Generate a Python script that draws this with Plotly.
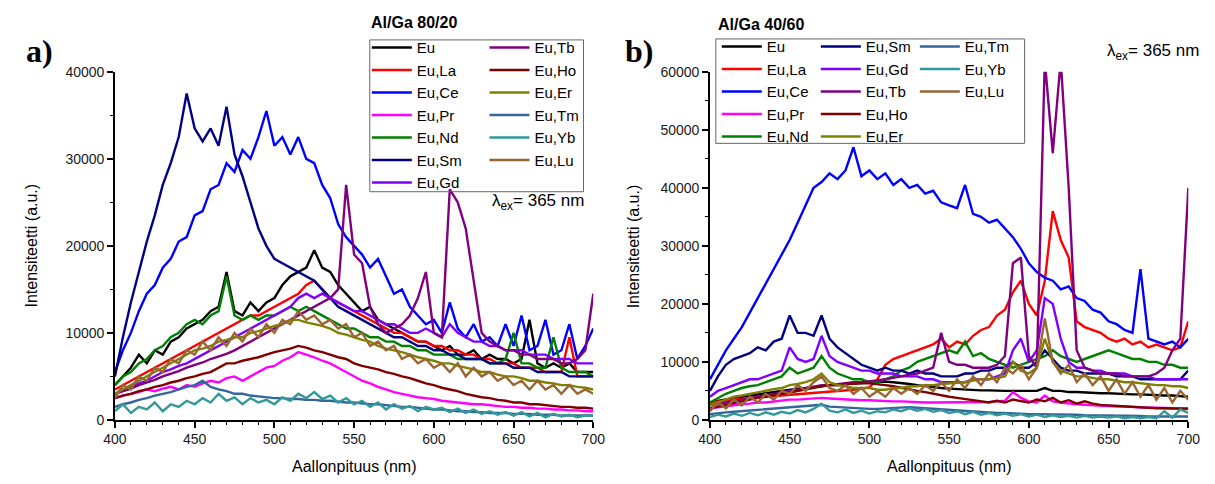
import plotly.graph_objects as go

# wavelength grid (nm)
WL = list(range(400, 701, 5))

# ---------------- panel a) Al/Ga 80/20 ----------------
a_Eu = [4000, 5000, 6000, 7500, 6500, 8000, 7500, 9000, 9500, 10500,
        11000, 11500, 12500, 13000, 17000, 12500, 12000, 13500, 12500, 13500,
        14000, 15500, 16500, 17000, 17500, 19500, 17500, 17000, 15500, 14500,
        13500, 12500, 13000, 11500, 11000, 10500, 10000, 9500, 9000, 9000,
        8500, 8000, 8500, 7500, 7500, 8000, 7000, 7500, 7000, 7000,
        6500, 7000, 11500, 6500, 6000, 6500, 6000, 6500, 5500, 5500, 5500]
a_La = [3500, 4000, 4500, 5000, 5500, 6000, 6500, 7000, 7500, 8000,
        8500, 9000, 9500, 10000, 10500, 11000, 11500, 12000, 12000, 12500,
        13000, 13500, 14000, 14500, 15500, 16000, 15000, 14000, 13500, 13000,
        12500, 12000, 11500, 11000, 10500, 10000, 10000, 9500, 9000, 9000,
        8500, 8500, 8000, 8000, 7500, 7500, 7000, 7000, 6500, 6500,
        6500, 6000, 6000, 6000, 5500, 5500, 5500, 9500, 5000, 5000, 5000]
a_Ce = [5500, 8000, 10000, 12500, 14500, 15500, 17500, 18500, 20500, 21000,
        23500, 24000, 26500, 27000, 29500, 28500, 31000, 30000, 32500, 35500,
        31500, 32500, 30500, 32500, 30000, 29500, 27000, 25500, 22500, 21000,
        20000, 19000, 17500, 18500, 16500, 14500, 15000, 13000, 12000, 11000,
        11500, 10000, 13500, 10500, 9500, 11000, 9000, 9500, 8500, 11000,
        8500, 12000, 8000, 8500, 11500, 7500, 8000, 11000, 7000, 8500, 10500]
a_Pr = [2500, 2800, 3000, 3200, 3500, 3300, 3600, 3800, 3500, 4000,
        3800, 4200, 4500, 4300, 4800, 5000, 4500, 5000, 5500, 6000,
        6200, 6800, 7200, 7800, 7500, 7200, 6800, 6500, 6000, 5500,
        5000, 4500, 4200, 3800, 3500, 3200, 3000, 2800, 2600, 2500,
        2400, 2200, 2100, 2000, 1900, 1800, 1800, 1700, 1600, 1500,
        1500, 1400, 1400, 1300, 1300, 1200, 1200, 1100, 1100, 1000, 1000]
a_Nd = [4000, 5000, 5500, 6500, 7000, 8000, 8500, 9500, 10000, 11000,
        11500, 11000, 12000, 12500, 16500, 12000, 11500, 12000, 11500, 12000,
        12000, 12500, 13000, 12500, 13000, 12500, 12000, 11500, 11000, 10500,
        10500, 10000, 9500, 9500, 9000, 9000, 8500, 8500, 8000, 8000,
        7500, 7500, 7500, 7000, 7000, 7000, 7000, 6500, 6500, 7000,
        10000, 6500, 6500, 6000, 6000, 9500, 6000, 5500, 5500, 5500, 5000]
a_Sm = [5000, 9500, 13500, 17000, 20500, 23500, 27000, 29500, 32500, 37500,
        33500, 32000, 33500, 31500, 36000, 30500, 28000, 25000, 22000, 20000,
        18500, 18000, 17500, 17000, 16500, 16000, 15000, 14000, 13000, 12500,
        12000, 11500, 11000, 10500, 10000, 9500, 9500, 9000, 8500, 8500,
        8000, 8000, 7500, 7500, 7000, 7000, 7000, 6500, 6500, 6500,
        6000, 6000, 6000, 5500, 5500, 5500, 5500, 5000, 5000, 5000, 5000]
a_Gd = [3000, 3500, 3800, 4200, 4500, 5000, 5500, 5800, 6200, 6500,
        7000, 7500, 8000, 8500, 9000, 9500, 10000, 10500, 11000, 11500,
        12000, 12500, 13000, 14000, 14500, 14000, 14500, 14000, 13500, 13000,
        12500, 12500, 12000, 11500, 11000, 11000, 10500, 10000, 10000, 10500,
        10000, 9500, 11000, 10000, 9500, 9000, 9000, 8500, 8500, 8000,
        8000, 8000, 7500, 7500, 7500, 7000, 7000, 7000, 6500, 6500, 6500]
a_Tb = [3000, 3300, 3600, 4000, 4300, 4600, 5000, 5300, 5600, 6000,
        6300, 6600, 7000, 7300, 7600, 8000, 8500, 9000, 9500, 10000,
        10500, 11000, 11500, 12000, 12500, 13000, 13500, 14000, 15000, 27000,
        19000, 18000, 13000, 11000, 10000, 10500, 11000, 12000, 14000, 17000,
        10000, 9500, 26500, 25000, 22000, 16000, 10000, 9000, 8500, 8000,
        8000, 7500, 7500, 7000, 7000, 7000, 6500, 6500, 7000, 8000, 14500]
a_Ho = [2500, 2800, 3000, 3300, 3500, 3800, 4000, 4300, 4500, 4800,
        5000, 5300, 5500, 6000, 6500, 6500, 6800, 7000, 7200, 7500,
        7800, 8000, 8200, 8500, 8300, 8000, 7800, 7500, 7200, 7000,
        6500, 6200, 6000, 5800, 5500, 5300, 5000, 4800, 4500, 4200,
        4000, 3700, 3500, 3300, 3000, 2800, 2600, 2500, 2300, 2200,
        2000, 2000, 1800, 1800, 1700, 1600, 1500, 1500, 1400, 1400, 1300]
a_Er = [3000, 3500, 4000, 4500, 5000, 5500, 6000, 6500, 7000, 7500,
        8000, 8200, 8500, 9000, 9200, 9500, 9500, 10000, 10200, 10500,
        10800, 11000, 11500, 11500, 11200, 11000, 10800, 10500, 10000, 9800,
        9500, 9200, 9000, 8500, 8200, 8000, 7800, 7500, 7200, 7000,
        6800, 6500, 6500, 6200, 6000, 5800, 5500, 5500, 5200, 5000,
        5000, 4800, 4500, 4500, 4300, 4200, 4000, 4000, 3800, 3700, 3500]
a_Tm = [1500, 1800, 2000, 2300, 2500, 2800, 3000, 3200, 3500, 3800,
        4000, 4500, 3800, 3500, 3300, 3000, 3000, 2800, 2700, 2600,
        2500, 2500, 2400, 2400, 2300, 2300, 2200, 2200, 2100, 2000,
        2000, 1900, 1800, 1800, 1700, 1600, 1500, 1500, 1400, 1300,
        1200, 1200, 1100, 1000, 1000, 900, 900, 800, 800, 800,
        700, 700, 700, 600, 600, 600, 500, 500, 500, 500, 500]
a_Yb = [1000, 1800, 800, 1500, 1200, 2000, 1000, 1800, 1500, 2200,
        1800, 2500, 2000, 3000, 2200, 2600, 1800, 2500, 2000, 2300,
        1800, 2600, 2200, 3000, 2500, 3200, 2400, 2800, 2000, 2500,
        1800, 2200, 1500, 2000, 1200, 1800, 1300, 1600, 1000, 1500,
        1200, 1400, 900, 1300, 800, 1200, 700, 1000, 600, 900,
        500, 900, 400, 800, 300, 700, 400, 600, 300, 500, 500]
a_Lu = [2500, 4000, 3500, 5000, 4500, 6000, 5500, 7000, 6500, 8000,
        7500, 9000, 8000, 9500, 8500, 10000, 9000, 10500, 9500, 11000,
        10000, 11500, 11000, 12500, 11500, 12000, 11000, 11500, 10500, 11000,
        9500, 10000, 8500, 9000, 8000, 8500, 7000, 7500, 6500, 7000,
        6000, 6500, 5500, 6500, 5000, 6000, 5000, 5500, 4500, 5000,
        4000, 4500, 3500, 4500, 3500, 4000, 3000, 4000, 3000, 3500, 3000]

# ---------------- panel b) Al/Ga 40/60 ----------------
b_Eu = [3000, 3300, 3500, 3800, 4000, 4200, 4500, 4700, 4800, 5000,
        5200, 5400, 5500, 5600, 5800, 6000, 6000, 6200, 6300, 6300,
        6400, 6500, 6600, 6500, 6400, 6200, 6000, 5800, 5600, 5500,
        5400, 5300, 5200, 5200, 5100, 5100, 5000, 5000, 5000, 5000,
        5000, 5000, 5500, 5000, 5000, 4800, 4800, 4700, 4700, 4600,
        4600, 4500, 4500, 4400, 4400, 4300, 4300, 4200, 4200, 4100, 4000]
b_La = [3000, 3200, 3300, 3500, 3600, 3800, 3900, 4000, 4100, 4200,
        4300, 4400, 4500, 4600, 4700, 4800, 4900, 5000, 5200, 5400,
        5600, 7000, 9500, 10500, 11000, 11500, 12000, 12500, 13000, 14000,
        12500, 13500, 13000, 14500, 15500, 16000, 18000, 19000, 22000, 24000,
        20000, 18000, 24000, 36000, 31000, 28000, 17000, 16000, 15500, 15000,
        14000, 13500, 14000, 13000, 13500, 12500, 13000, 12500, 12000, 12500, 17000]
b_Ce = [7000, 9500, 12000, 14000, 16000, 18500, 21000, 23500, 26000, 28500,
        31000, 34000, 37000, 40000, 41000, 42500, 41500, 43000, 47000, 42000,
        43000, 41500, 42500, 40500, 41500, 40000, 40500, 39000, 39500, 37500,
        37000, 36500, 40500, 35500, 35000, 34000, 34500, 33000, 31500, 29500,
        27000, 25500, 24500, 24000, 22500, 23000, 21000, 20500, 19000, 18500,
        17000, 16500, 15500, 15000, 26000, 14000, 13500, 13000, 13500, 12500, 14000]
b_Pr = [2000, 2200, 2400, 2500, 2700, 2800, 3000, 3000, 3200, 3300,
        3500, 3500, 3600, 3600, 3800, 3700, 3600, 3500, 3500, 3400,
        3400, 3300, 3300, 3200, 3200, 3100, 3100, 3000, 3000, 3000,
        3000, 3000, 3000, 3000, 3100, 3100, 3200, 3300, 4800, 3800,
        3200, 3000, 4200, 3200, 3000, 2800, 2700, 2600, 2500, 2500,
        2400, 2300, 2300, 2200, 2200, 2100, 2100, 2000, 2000, 2000, 2000]
b_Nd = [3000, 3800, 4500, 5000, 5500, 5800, 6000, 6500, 7000, 7500,
        9000, 8000, 8500, 9000, 11000, 9000, 8000, 7500, 7000, 7000,
        6500, 6500, 7000, 7500, 8500, 9000, 10000, 10500, 11000, 11500,
        12000, 11500, 13500, 11000, 11500, 10500, 10000, 9500, 9000, 9500,
        10000, 10500, 11000, 12000, 11000, 10500, 10000, 10500, 11000, 11500,
        12000, 11500, 11000, 10500, 10500, 10000, 10000, 9500, 9500, 9000, 9000]
b_Sm = [5000, 7500, 9500, 10500, 11000, 11500, 12500, 12000, 13500, 14000,
        18000, 15000, 15000, 14500, 18000, 14000, 12500, 11500, 10500, 9500,
        9000, 8500, 9000, 8500, 8500, 8000, 8500, 8000, 8000, 7500,
        7500, 7500, 8000, 8000, 8500, 8500, 9000, 9000, 10000, 9000,
        9000, 10000, 12000, 10500, 9000, 8500, 8500, 8000, 8000, 8000,
        8000, 7500, 7500, 7500, 7000, 7000, 7000, 7000, 7000, 7000, 8500]
b_Gd = [4000, 5000, 5500, 6000, 6500, 7000, 7000, 7500, 8000, 8500,
        12500, 10500, 10000, 10500, 14500, 11000, 10000, 9500, 9000, 8500,
        8500, 8000, 8000, 8000, 7500, 7500, 7500, 7000, 7000, 6500,
        6500, 6500, 6500, 7000, 7000, 7000, 7500, 8000, 12000, 14000,
        10000, 12000, 21000, 20000, 14000, 10000, 9000, 9000, 8500, 8500,
        8000, 8000, 8000, 7500, 7500, 7500, 7000, 7000, 7000, 7000, 7000]
b_Tb = [2500, 2800, 3000, 3200, 3500, 3800, 4000, 4200, 4500, 4800,
        5000, 5200, 5500, 5800, 6000, 6000, 6200, 6300, 6500, 6500,
        6600, 6800, 7000, 7200, 7500, 7800, 8000, 8500, 9000, 15000,
        10000, 9500, 9500, 9000, 9000, 9000, 9500, 11000, 27000, 28000,
        11000, 9000, 62000, 46000, 62000, 40000, 12000, 9000, 8500, 8000,
        8000, 8000, 7500, 7500, 7500, 7500, 8000, 9000, 12000, 14000, 40000]
b_Ho = [2000, 2300, 2600, 3000, 3200, 3500, 3800, 4000, 4300, 4500,
        4700, 5000, 5200, 5500, 5800, 6000, 6000, 6200, 6300, 6300,
        6300, 6200, 6000, 5800, 5500, 5200, 5000, 4800, 4500, 4300,
        4000, 3800, 3600, 3400, 3200, 3000, 3300, 3000, 3500, 3200,
        3000, 3500, 3200, 3800, 3000, 3400, 2800, 3200, 2800, 2600,
        2500, 2400, 2300, 2200, 2200, 2100, 2000, 2000, 2000, 1900, 1900]
b_Er = [2500, 3000, 3500, 4000, 4200, 4500, 4800, 5000, 5300, 5500,
        6000, 6200, 6500, 7000, 8000, 6500, 6000, 5800, 5500, 5500,
        5500, 5200, 5200, 5500, 5500, 5800, 5800, 6000, 6000, 6200,
        6300, 6500, 6500, 6800, 7000, 7000, 7200, 7500, 10000, 8500,
        8000, 9000, 14000, 10000, 8500, 8000, 7500, 7500, 7200, 7000,
        7000, 6800, 6500, 6500, 6300, 6200, 6000, 6000, 5800, 5800, 5500]
b_Tm = [1000, 1200, 1300, 1400, 1500, 1600, 1700, 1800, 1900, 2000,
        2100, 2200, 2300, 2400, 2600, 2300, 2200, 2100, 2000, 2000,
        1900, 1900, 2000, 2100, 2200, 2200, 2100, 2000, 1900, 1800,
        1700, 1600, 1500, 1500, 1400, 1300, 1200, 1200, 1100, 1100,
        1000, 1000, 1000, 1000, 900, 900, 900, 800, 800, 800,
        800, 700, 700, 700, 700, 600, 600, 600, 600, 600, 600]
b_Yb = [500, 900, 600, 1100, 700, 1200, 800, 1300, 900, 1400,
        1100, 1700, 1300, 1900, 2800, 1600, 1300, 1800, 1200, 1600,
        1100, 1500, 1300, 1800, 1500, 2000, 1600, 1900, 1400, 1700,
        1200, 1500, 1000, 1400, 900, 1200, 800, 1100, 700, 1000,
        600, 900, 500, 800, 500, 700, 400, 700, 400, 600,
        400, 600, 300, 500, 300, 500, 300, 1500, 400, 1800, 1200]
b_Lu = [1500, 3000, 2000, 3500, 2500, 4000, 3000, 4500, 3500, 5000,
        4500, 6000, 5000, 6500, 7500, 5500, 5000, 6000, 4500, 5500,
        4000, 5000, 4000, 5500, 4500, 5500, 4500, 6000, 5000, 6500,
        5000, 7000, 5500, 7500, 6000, 8000, 6500, 9000, 8000, 9500,
        7000, 9000, 17500, 10000, 8000, 9500, 6500, 8000, 6000, 7500,
        5000, 7000, 4500, 6500, 4000, 6000, 3500, 5500, 3000, 5000, 3500]

NAMES = ["Eu", "Eu,La", "Eu,Ce", "Eu,Pr", "Eu,Nd", "Eu,Sm", "Eu,Gd",
         "Eu,Tb", "Eu,Ho", "Eu,Er", "Eu,Tm", "Eu,Yb", "Eu,Lu"]
COLORS = ["#000000", "#FF0000", "#0000FF", "#FF00FF", "#008000", "#000080",
          "#8000FF", "#800080", "#800000", "#808000", "#336699", "#339999", "#996633"]
A_SERIES = [a_Eu, a_La, a_Ce, a_Pr, a_Nd, a_Sm, a_Gd, a_Tb, a_Ho, a_Er, a_Tm, a_Yb, a_Lu]
B_SERIES = [b_Eu, b_La, b_Ce, b_Pr, b_Nd, b_Sm, b_Gd, b_Tb, b_Ho, b_Er, b_Tm, b_Yb, b_Lu]

# legend column assignment
A_LEG = ["legend", "legend", "legend", "legend", "legend", "legend", "legend",
         "legend2", "legend2", "legend2", "legend2", "legend2", "legend2"]
B_LEG = ["legend3", "legend3", "legend3", "legend3", "legend3",
         "legend4", "legend4", "legend4", "legend4", "legend4",
         "legend5", "legend5", "legend5"]

W, H = 1215, 484
FONT = "Liberation Sans, Arial, sans-serif"

fig = go.Figure()
for i, (nm, col, ys) in enumerate(zip(NAMES, COLORS, A_SERIES)):
    fig.add_trace(go.Scatter(x=WL, y=ys, mode="lines", name=nm,
                             line=dict(color=col, width=2.4), legend=A_LEG[i],
                             legendgroup="a" + nm, xaxis="x", yaxis="y"))
for i, (nm, col, ys) in enumerate(zip(NAMES, COLORS, B_SERIES)):
    fig.add_trace(go.Scatter(x=WL, y=ys, mode="lines", name=nm,
                             line=dict(color=col, width=2.4), legend=B_LEG[i],
                             legendgroup="b" + nm, xaxis="x2", yaxis="y2"))

def px(x):
    return x / W

def py(y):
    return 1 - y / H

axis_common = dict(showline=True, linecolor="black", linewidth=1.5, ticks="outside",
                   ticklen=6, tickwidth=1.5, tickcolor="black", showgrid=False,
                   zeroline=False, mirror=False, tickformat="d",
                   tickfont=dict(family=FONT, size=14, color="#1a1a1a"))

fig.update_layout(
    width=W, height=H, margin=dict(l=0, r=0, t=0, b=0),
    paper_bgcolor="white", plot_bgcolor="white",
    xaxis=dict(domain=[px(105), px(593)], range=[400, 700], tickvals=[400, 450, 500, 550, 600, 650, 700],
               minor=dict(dtick=10, ticks="outside", ticklen=3, tickwidth=1.2, tickcolor="black"),
               anchor="y", **axis_common),
    yaxis=dict(domain=[py(426), py(66)], range=[0, 40000], dtick=10000,
               minor=dict(dtick=5000, ticks="outside", ticklen=3, tickwidth=1.2, tickcolor="black"),
               anchor="x", **axis_common),
    xaxis2=dict(domain=[px(712), px(1200)], range=[400, 700], tickvals=[400, 450, 500, 550, 600, 650, 700],
                minor=dict(dtick=10, ticks="outside", ticklen=3, tickwidth=1.2, tickcolor="black"),
                anchor="y2", **axis_common),
    yaxis2=dict(domain=[py(426), py(66)], range=[0, 60000], dtick=10000,
                minor=dict(dtick=5000, ticks="outside", ticklen=3, tickwidth=1.2, tickcolor="black"),
                anchor="x2", **axis_common),
    showlegend=True,
)

leg_common = dict(bgcolor="rgba(0,0,0,0)", borderwidth=0, xanchor="left", yanchor="top",
                  font=dict(family=FONT, size=15, color="black"), tracegroupgap=0,
                  itemwidth=40, orientation="v")
fig.update_layout(
    legend=dict(x=px(362), y=py(24), **leg_common),
    legend2=dict(x=px(482), y=py(24), **leg_common),
    legend3=dict(x=px(719), y=py(23), **leg_common),
    legend4=dict(x=px(820), y=py(23), **leg_common),
    legend5=dict(x=px(921), y=py(23), **leg_common),
)

shapes = [
    dict(type="rect", xref="paper", yref="paper", x0=px(365), x1=px(583), y0=py(190), y1=py(33),
         line=dict(color="#666666", width=1)),
    dict(type="rect", xref="paper", yref="paper", x0=px(718), x1=px(1033), y0=py(140), y1=py(32),
         line=dict(color="#666666", width=1)),
]
fig.update_layout(shapes=shapes)

ann = []
def add(text, x, y, size, xanchor="center", yanchor="middle", bold=False, family=FONT, angle=0):
    ann.append(dict(text=("<b>%s</b>" % text) if bold else text, x=px(x), y=py(y),
                    xref="paper", yref="paper", showarrow=False, xanchor=xanchor,
                    yanchor=yanchor, textangle=angle,
                    font=dict(family=family, size=size, color="black")))

add("a)", 12, 44, 32, xanchor="left", bold=True, family="Liberation Serif, Times New Roman, serif")
add("b)", 623, 44, 32, xanchor="left", bold=True, family="Liberation Serif, Times New Roman, serif")
add("Al/Ga 80/20", 364, 15, 16, xanchor="left", bold=True)
add("Al/Ga 40/60", 718, 17, 16, xanchor="left", bold=True)
add("λ<sub>ex</sub>= 365 nm", 586, 201, 17, xanchor="right")
add("λ<sub>ex</sub>= 365 nm", 1213, 46, 17, xanchor="right")
add("Intensiteetti (a.u.)", 20, 246, 16, angle=-90)
add("Intensiteetti (a.u.)", 634, 246, 16, angle=-90)
add("Aallonpituus (nm)", 349, 474, 16)
add("Aallonpituus (nm)", 956, 474, 16)
fig.update_layout(annotations=ann)

fig.write_html("out.html")
